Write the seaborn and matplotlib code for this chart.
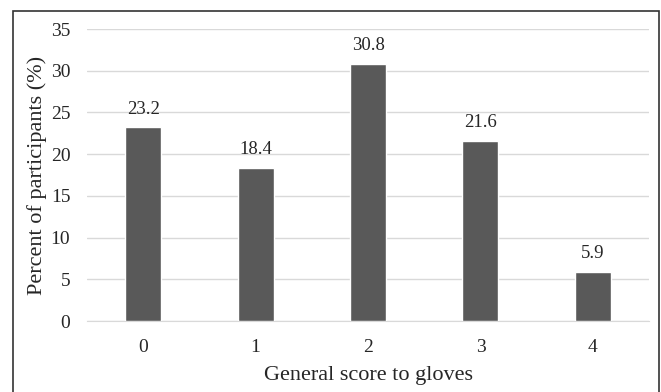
import numpy as np
import pandas as pd
import matplotlib
matplotlib.use('Agg')
import matplotlib.pyplot as plt
import seaborn as sns
from matplotlib.patches import Rectangle

# data
scores = ['0', '1', '2', '3', '4']
percent = [23.2, 18.4, 30.8, 21.6, 5.9]

df = pd.DataFrame({'Score': scores, 'Percent': percent})

sns.set_style('white')
plt.rcParams['font.family'] = ['Liberation Serif', 'DejaVu Serif']

fig = plt.figure(figsize=(6.61, 3.92), dpi=100)
ax = fig.add_axes([0.1316, 0.181, 0.8504, 0.745])

sns.barplot(x='Score', y='Percent', data=df, color='#595959', width=0.32,
            saturation=1, ax=ax, zorder=3)

for bars in ax.containers:
    ax.bar_label(bars, fmt='%.1f', fontsize=13.5, padding=7)

ax.set_ylim(0, 35)
ax.set_yticks(np.arange(0, 36, 5))
ax.yaxis.grid(True, color='#d9d9d9', linewidth=1, zorder=0)
ax.set_axisbelow(True)
for s in ['top', 'right', 'left']:
    ax.spines[s].set_visible(False)
ax.spines['bottom'].set_color('#d9d9d9')
ax.tick_params(axis='both', length=0, labelsize=14)
ax.tick_params(axis='y', pad=12)
ax.tick_params(axis='x', pad=13)

ax.set_xlabel('General score to gloves', fontsize=16, labelpad=7)
ax.set_ylabel('Percent of participants (%)', fontsize=16, labelpad=3)

# frame around the whole picture
fig.patches.append(Rectangle((13 / 661, -0.02), 646 / 661, 1 - 11 / 392 + 0.02,
                             transform=fig.transFigure, fill=False,
                             edgecolor='#333333', linewidth=1.2))

fig.savefig('out.png', dpi=100)
